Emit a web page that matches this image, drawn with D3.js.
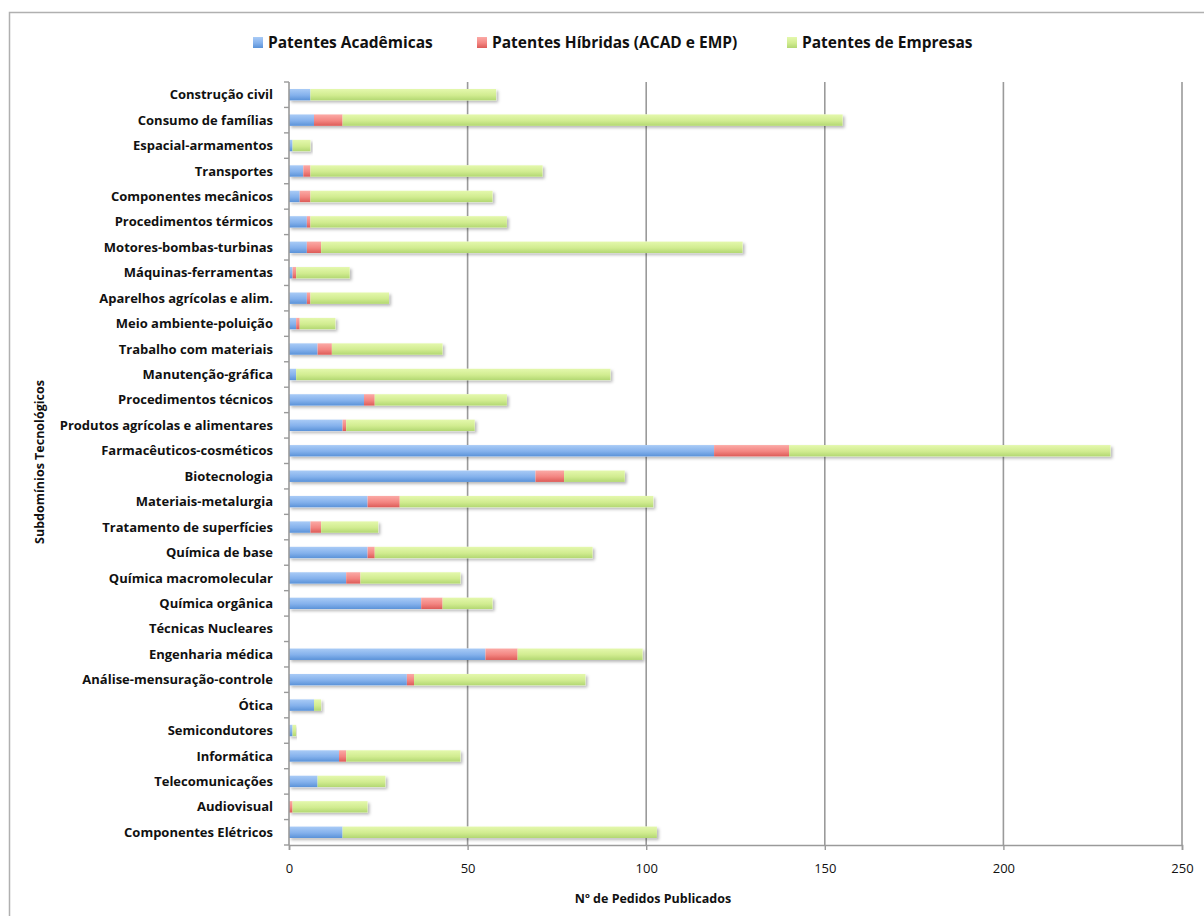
<!DOCTYPE html>
<html>
<head>
<meta charset="utf-8">
<script src="https://cdn.jsdelivr.net/npm/d3@7"></script>
<style>
  html, body { margin: 0; padding: 0; background: #fff; }
  svg { display: block; font-family: "Open Sans", Lato, sans-serif; }
</style>
</head>
<body>
<svg id="chart" width="1204" height="916"></svg>
<script>
// Subdomínios tecnológicos, top to bottom
const categories = [
  "Construção civil", "Consumo de famílias", "Espacial-armamentos", "Transportes",
  "Componentes mecânicos", "Procedimentos térmicos", "Motores-bombas-turbinas",
  "Máquinas-ferramentas", "Aparelhos agrícolas e alim.", "Meio ambiente-poluição",
  "Trabalho com materiais", "Manutenção-gráfica", "Procedimentos técnicos",
  "Produtos agrícolas e alimentares", "Farmacêuticos-cosméticos", "Biotecnologia",
  "Materiais-metalurgia", "Tratamento de superfícies", "Química de base",
  "Química macromolecular", "Química orgânica", "Técnicas Nucleares",
  "Engenharia médica", "Análise-mensuração-controle", "Ótica", "Semicondutores",
  "Informática", "Telecomunicações", "Audiovisual", "Componentes Elétricos"
];

const academicas = [6, 7, 1, 4, 3, 5, 5, 1, 5, 2, 8, 2, 21, 15, 119, 69, 22, 6, 22, 16, 37, 0, 55, 33, 7, 1, 14, 8, 0, 15];
const hibridas   = [0, 8, 0, 2, 3, 1, 4, 1, 1, 1, 4, 0, 3, 1, 21, 8, 9, 3, 2, 4, 6, 0, 9, 2, 0, 0, 2, 0, 1, 0];
const empresas   = [52, 140, 5, 65, 51, 55, 118, 15, 22, 10, 31, 88, 37, 36, 90, 17, 71, 16, 61, 28, 14, 0, 35, 48, 2, 1, 32, 19, 21, 88];

const seriesNames = ["Patentes Acadêmicas", "Patentes Híbridas (ACAD e EMP)", "Patentes de Empresas"];
const xTicks = [0, 50, 100, 150, 200, 250];

const svg = d3.select("#chart");
const margin = { left: 289, right: 1182, top: 82, bottom: 845 };

// Gradients for each series (light top, darker bottom)
const defs = svg.append("defs");
const palette = [
  { id: "gAcad", top: "#a9cbf6", mid: "#84b1ec", bot: "#5a92d8" },
  { id: "gHib",  top: "#fbaaa6", mid: "#f38581", bot: "#dc5b57" },
  { id: "gEmp",  top: "#e4f8ad", mid: "#d1ec90", bot: "#b2d772" }
];
palette.forEach(p => {
  const g = defs.append("linearGradient").attr("id", p.id)
    .attr("x1", 0).attr("y1", 0).attr("x2", 0).attr("y2", 1);
  g.append("stop").attr("offset", "0%").attr("stop-color", p.top);
  g.append("stop").attr("offset", "55%").attr("stop-color", p.mid);
  g.append("stop").attr("offset", "100%").attr("stop-color", p.bot);
});
const shadow = defs.append("filter").attr("id", "shadow")
  .attr("x", "-5%").attr("y", "-30%").attr("width", "115%").attr("height", "190%");
shadow.append("feDropShadow").attr("dx", 2).attr("dy", 2).attr("stdDeviation", 1.5)
  .attr("flood-color", "#000").attr("flood-opacity", 0.28);

// Outer frame
svg.append("path")
  .attr("d", "M9.5,916 V12.5 H1204")
  .attr("fill", "none").attr("stroke", "#b0b0b0").attr("stroke-width", 1.5);

const x = d3.scaleLinear().domain([0, 250]).range([margin.left, margin.right]);
const y = d3.scaleBand().domain(categories).range([margin.top, margin.bottom]).paddingInner(0.55).paddingOuter(0.275);
const yOuter = d3.scaleBand().domain(categories).range([margin.top, margin.bottom]);

// Vertical gridlines
svg.append("g").selectAll("line").data(xTicks.filter(t => t > 0)).join("line")
  .attr("x1", d => x(d)).attr("x2", d => x(d))
  .attr("y1", margin.top).attr("y2", margin.bottom)
  .attr("stroke", "#9a9a9a").attr("stroke-width", 1.6);

// Stacked bars
const rows = categories.map((c, i) => ({ cat: c, acad: academicas[i], hib: hibridas[i], emp: empresas[i] }));
const stack = d3.stack().keys(["acad", "hib", "emp"])(rows);

const barsG = svg.append("g");
// shadow layer under every full bar
barsG.append("g").selectAll("rect").data(rows.filter(r => r.acad + r.hib + r.emp > 0)).join("rect")
  .attr("x", x(0))
  .attr("y", d => y(d.cat))
  .attr("width", d => x(d.acad + d.hib + d.emp) - x(0))
  .attr("height", y.bandwidth())
  .attr("fill", "#fff")
  .attr("filter", "url(#shadow)");

stack.forEach((layer, k) => {
  barsG.append("g").selectAll("rect").data(layer).join("rect")
    .attr("x", d => x(d[0]))
    .attr("y", d => y(d.data.cat))
    .attr("width", d => Math.max(0, x(d[1]) - x(d[0])))
    .attr("height", y.bandwidth())
    .attr("fill", `url(#${palette[k].id})`);
});

// Left axis (category axis) with ticks at band boundaries
const axisColor = "#9a9a9a";
svg.append("line")
  .attr("x1", margin.left).attr("x2", margin.left)
  .attr("y1", margin.top).attr("y2", margin.bottom)
  .attr("stroke", axisColor).attr("stroke-width", 1.6);
const boundaries = categories.map(c => yOuter(c)).concat([margin.bottom]);
svg.append("g").selectAll("line").data(boundaries).join("line")
  .attr("x1", margin.left - 5).attr("x2", margin.left)
  .attr("y1", d => d).attr("y2", d => d)
  .attr("stroke", axisColor).attr("stroke-width", 1.4);

// Category labels
svg.append("g").selectAll("text").data(categories).join("text")
  .attr("x", 273)
  .attr("y", d => yOuter(d) + yOuter.bandwidth() / 2)
  .attr("dy", "0.35em")
  .attr("text-anchor", "end")
  .attr("font-size", 13).attr("font-weight", "bold").attr("fill", "#111")
  .text(d => d);

// Bottom axis
const xAxis = d3.axisBottom(x).tickValues(xTicks).tickSize(5).tickPadding(14).tickFormat(d3.format("d"));
const gx = svg.append("g").attr("transform", `translate(0,${margin.bottom})`).call(xAxis);
gx.select(".domain").attr("stroke", axisColor).attr("stroke-width", 1.6);
gx.selectAll(".tick line").attr("stroke", axisColor).attr("stroke-width", 1.4);
gx.selectAll(".tick text").attr("font-size", 13).attr("fill", "#111")
  .attr("font-family", "'Open Sans', Lato, sans-serif");

// Axis titles
svg.append("text").attr("x", 653).attr("y", 903).attr("text-anchor", "middle")
  .attr("font-size", 12.5).attr("font-weight", "bold").attr("fill", "#111")
  .text("Nº de Pedidos Publicados");
svg.append("text")
  .attr("transform", "translate(44,462) rotate(-90)")
  .attr("text-anchor", "middle")
  .attr("font-size", 12.5).attr("font-weight", "bold").attr("fill", "#111")
  .text("Subdomínios Tecnológicos");

// Legend
const legendX = [253, 477, 787];
const lg = svg.append("g").selectAll("g").data(seriesNames).join("g")
  .attr("transform", (d, i) => `translate(${legendX[i]},37)`);
lg.append("rect").attr("width", 10).attr("height", 11)
  .attr("fill", (d, i) => `url(#${palette[i].id})`);
lg.append("text").attr("x", 15).attr("y", 11)
  .attr("font-size", 15.5).attr("font-weight", "bold").attr("fill", "#111")
  .text(d => d);
</script>
</body>
</html>
